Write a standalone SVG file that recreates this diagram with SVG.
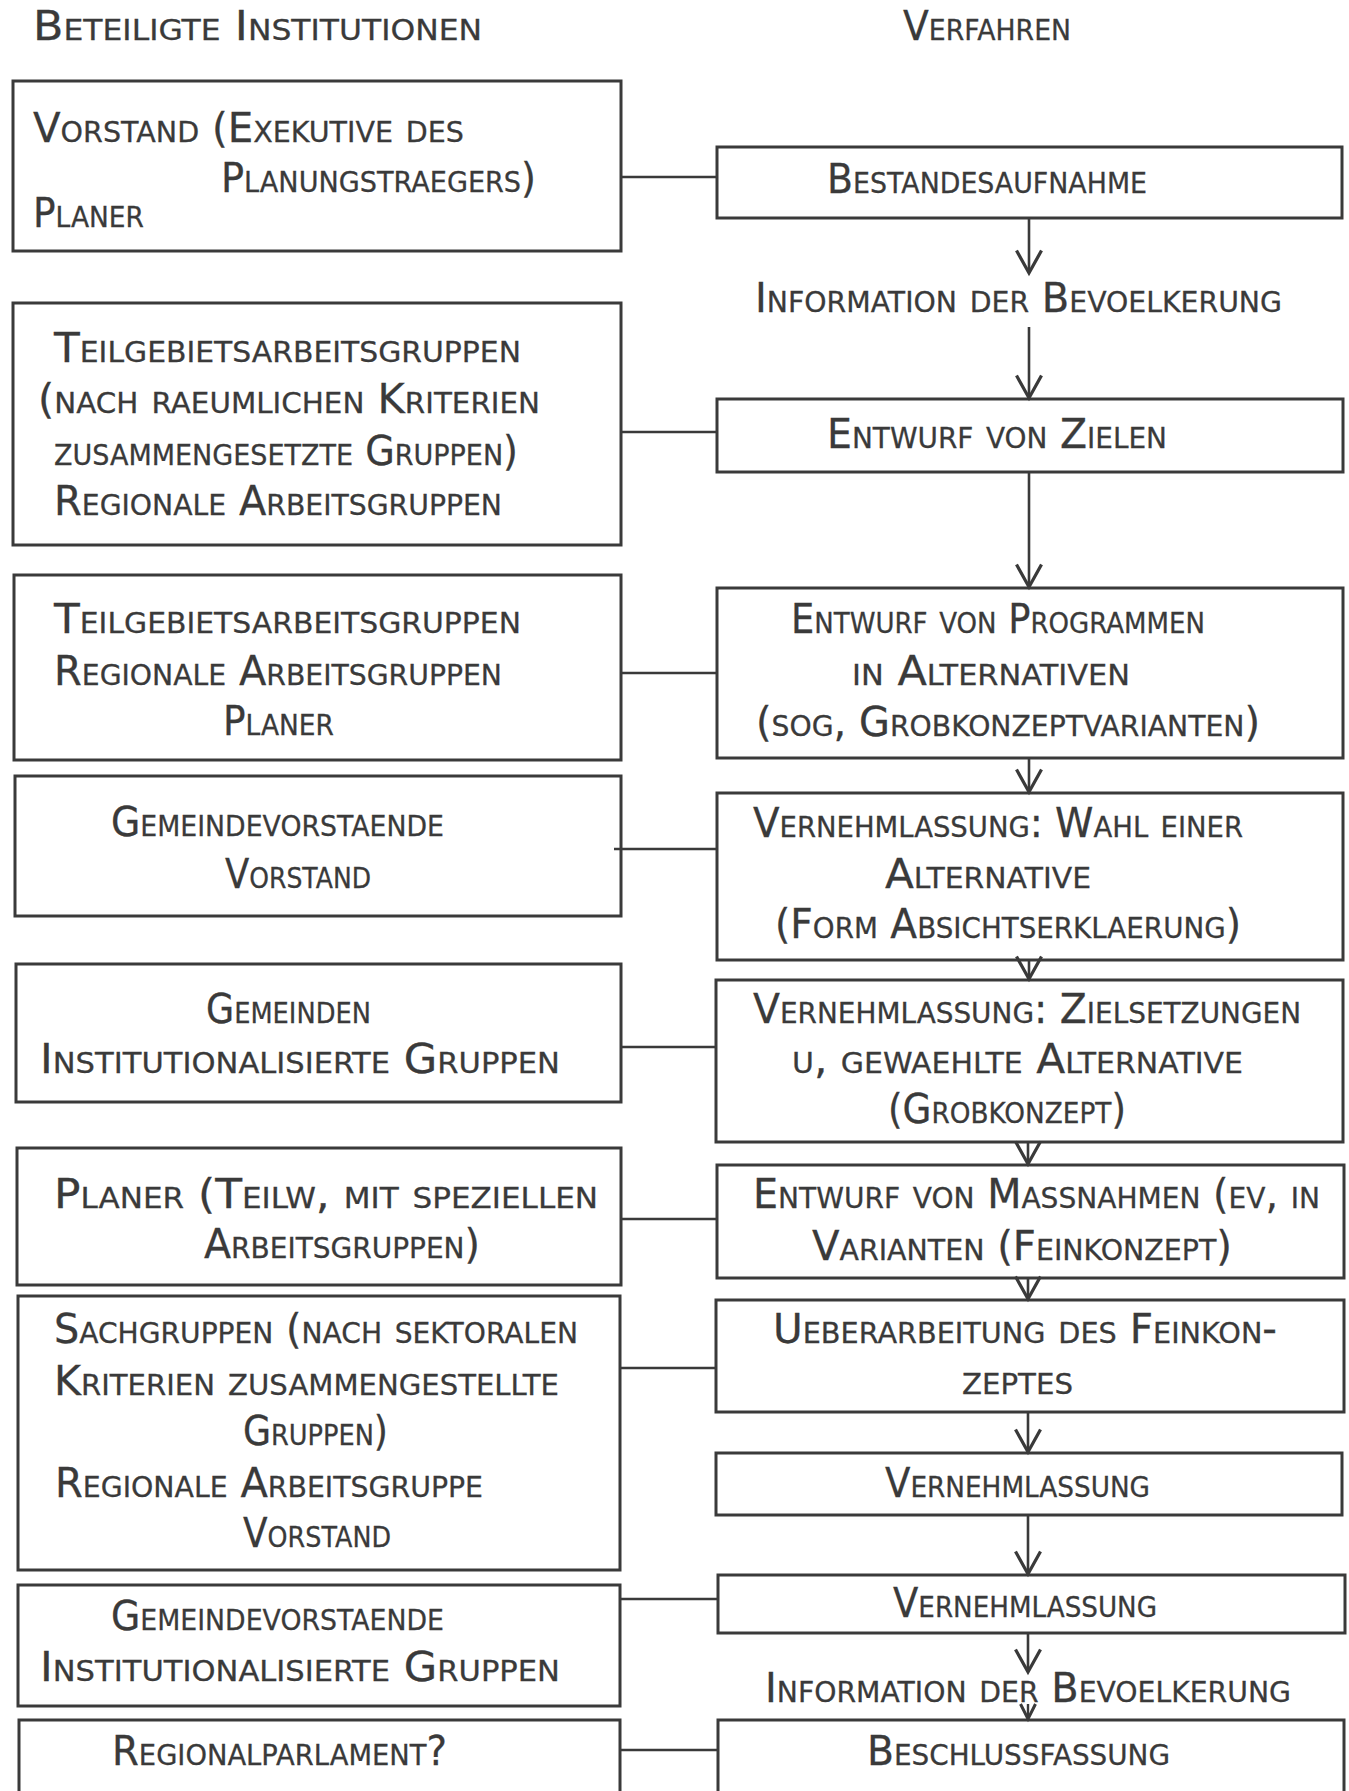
<svg xmlns="http://www.w3.org/2000/svg" width="1349" height="1791" viewBox="0 0 1349 1791">
<defs>
<style>
.t{font-family:"DejaVu Sans","Liberation Sans",sans-serif;font-size:41px;font-variant:small-caps;fill:#3a3a3a;stroke:#3a3a3a;stroke-width:0.3}
.b{fill:none;stroke:#3a3a3a;stroke-width:3}
.c{fill:none;stroke:#3a3a3a;stroke-width:2.6}
.a{fill:none;stroke:#3a3a3a;stroke-width:2.6;marker-end:url(#ah)}
</style>
<marker id="ah" markerUnits="userSpaceOnUse" markerWidth="30" markerHeight="30" viewBox="-20 -12 22 24" refX="0" refY="0" orient="auto" overflow="visible">
<path d="M-18,-10 L0,0 L-18,10" fill="none" stroke="#3a3a3a" stroke-width="2.6"/>
</marker>
<marker id="ahs" markerUnits="userSpaceOnUse" markerWidth="20" markerHeight="20" viewBox="-14 -8 16 16" refX="0" refY="0" orient="auto" overflow="visible">
<path d="M-12,-6 L0,0 L-12,6" fill="none" stroke="#3a3a3a" stroke-width="2.4"/>
</marker>
</defs>
<rect width="1349" height="1791" fill="#ffffff"/>

<g id="headings">
<text class="t" x="33" y="40" textLength="449" lengthAdjust="spacingAndGlyphs">Beteiligte Institutionen</text>
<text class="t" x="903" y="40" textLength="168" lengthAdjust="spacingAndGlyphs">Verfahren</text>
</g>

<g id="connectors">
<line class="c" x1="621" y1="177" x2="717" y2="177"/>
<line class="c" x1="621" y1="432" x2="717" y2="432"/>
<line class="c" x1="621" y1="673" x2="717" y2="673"/>
<line class="c" x1="614" y1="849" x2="717" y2="849"/>
<line class="c" x1="621" y1="1047" x2="717" y2="1047"/>
<line class="c" x1="621" y1="1219" x2="717" y2="1219"/>
<line class="c" x1="621" y1="1368" x2="717" y2="1368"/>
<line class="c" x1="621" y1="1599" x2="717" y2="1599"/>
<line class="c" x1="621" y1="1750" x2="717" y2="1750"/>
<line class="a" x1="1029" y1="218" x2="1029" y2="273"/>
<line class="a" x1="1029" y1="327" x2="1029" y2="398"/>
<line class="a" x1="1029" y1="472" x2="1029" y2="587"/>
<line class="a" x1="1029" y1="758" x2="1029" y2="792"/>
<line class="a" x1="1029" y1="960" x2="1029" y2="979"/>
<line class="a" x1="1028" y1="1142" x2="1028" y2="1164"/>
<line class="a" x1="1028" y1="1278" x2="1028" y2="1299"/>
<line class="a" x1="1028" y1="1412" x2="1028" y2="1452"/>
<line class="a" x1="1028" y1="1515" x2="1028" y2="1574"/>
<line class="a" x1="1028" y1="1633" x2="1028" y2="1672"/>
<line x1="1028" y1="1704" x2="1028" y2="1719" stroke="#3a3a3a" stroke-width="2.4" marker-end="url(#ahs)"/>
</g>

<g id="L1">
<rect class="b" x="13" y="81" width="608" height="170"/>
<text class="t" x="33" y="142" textLength="431" lengthAdjust="spacingAndGlyphs">Vorstand (Exekutive des</text>
<text class="t" x="221" y="192" textLength="315" lengthAdjust="spacingAndGlyphs">Planungstraegers)</text>
<text class="t" x="33" y="227" textLength="111" lengthAdjust="spacingAndGlyphs">Planer</text>
</g>
<g id="L2">
<rect class="b" x="13" y="303" width="608" height="242"/>
<text class="t" x="54" y="362" textLength="467" lengthAdjust="spacingAndGlyphs">Teilgebietsarbeitsgruppen</text>
<text class="t" x="38" y="413" textLength="502" lengthAdjust="spacingAndGlyphs">(nach raeumlichen Kriterien</text>
<text class="t" x="54" y="465" textLength="464" lengthAdjust="spacingAndGlyphs">zusammengesetzte Gruppen)</text>
<text class="t" x="54" y="515" textLength="448" lengthAdjust="spacingAndGlyphs">Regionale Arbeitsgruppen</text>
</g>
<g id="L3">
<rect class="b" x="14" y="575" width="607" height="185"/>
<text class="t" x="54" y="633" textLength="467" lengthAdjust="spacingAndGlyphs">Teilgebietsarbeitsgruppen</text>
<text class="t" x="54" y="685" textLength="448" lengthAdjust="spacingAndGlyphs">Regionale Arbeitsgruppen</text>
<text class="t" x="223" y="735" textLength="111" lengthAdjust="spacingAndGlyphs">Planer</text>
</g>
<g id="L4">
<rect class="b" x="15" y="776" width="606" height="140"/>
<text class="t" x="111" y="836" textLength="333" lengthAdjust="spacingAndGlyphs">Gemeindevorstaende</text>
<text class="t" x="225" y="888" textLength="146" lengthAdjust="spacingAndGlyphs">Vorstand</text>
</g>
<g id="L5">
<rect class="b" x="16" y="964" width="605" height="138"/>
<text class="t" x="206" y="1023" textLength="165" lengthAdjust="spacingAndGlyphs">Gemeinden</text>
<text class="t" x="40" y="1073" textLength="520" lengthAdjust="spacingAndGlyphs">Institutionalisierte Gruppen</text>
</g>
<g id="L6">
<rect class="b" x="17" y="1148" width="604" height="137"/>
<text class="t" x="54" y="1208" textLength="544" lengthAdjust="spacingAndGlyphs">Planer (Teilw, mit speziellen</text>
<text class="t" x="204" y="1258" textLength="276" lengthAdjust="spacingAndGlyphs">Arbeitsgruppen)</text>
</g>
<g id="L7">
<rect class="b" x="18" y="1296" width="602" height="274"/>
<text class="t" x="54" y="1343" textLength="524" lengthAdjust="spacingAndGlyphs">Sachgruppen (nach sektoralen</text>
<text class="t" x="54" y="1395" textLength="505" lengthAdjust="spacingAndGlyphs">Kriterien zusammengestellte</text>
<text class="t" x="243" y="1445" textLength="145" lengthAdjust="spacingAndGlyphs">Gruppen)</text>
<text class="t" x="55" y="1497" textLength="428" lengthAdjust="spacingAndGlyphs">Regionale Arbeitsgruppe</text>
<text class="t" x="243" y="1547" textLength="148" lengthAdjust="spacingAndGlyphs">Vorstand</text>
</g>
<g id="L8">
<rect class="b" x="18" y="1585" width="602" height="121"/>
<text class="t" x="111" y="1630" textLength="333" lengthAdjust="spacingAndGlyphs">Gemeindevorstaende</text>
<text class="t" x="40" y="1681" textLength="520" lengthAdjust="spacingAndGlyphs">Institutionalisierte Gruppen</text>
</g>
<g id="L9">
<rect class="b" x="19" y="1720" width="601" height="90"/>
<text class="t" x="112" y="1765" textLength="335" lengthAdjust="spacingAndGlyphs">Regionalparlament?</text>
</g>

<g id="R1">
<rect class="b" x="717" y="147" width="625" height="71"/>
<text class="t" x="827" y="193" textLength="320" lengthAdjust="spacingAndGlyphs">Bestandesaufnahme</text>
</g>
<g id="I1">
<text class="t" x="755" y="312" textLength="527" lengthAdjust="spacingAndGlyphs">Information der Bevoelkerung</text>
</g>
<g id="R2">
<rect class="b" x="717" y="399" width="626" height="73"/>
<text class="t" x="827" y="448" textLength="340" lengthAdjust="spacingAndGlyphs">Entwurf von Zielen</text>
</g>
<g id="R3">
<rect class="b" x="717" y="588" width="626" height="170"/>
<text class="t" x="791" y="633" textLength="414" lengthAdjust="spacingAndGlyphs">Entwurf von Programmen</text>
<text class="t" x="852" y="685" textLength="278" lengthAdjust="spacingAndGlyphs">in Alternativen</text>
<text class="t" x="756" y="736" textLength="504" lengthAdjust="spacingAndGlyphs">(sog, Grobkonzeptvarianten)</text>
</g>
<g id="R4">
<rect class="b" x="717" y="793" width="626" height="167"/>
<text class="t" x="753" y="837" textLength="490" lengthAdjust="spacingAndGlyphs">Vernehmlassung: Wahl einer</text>
<text class="t" x="885" y="888" textLength="206" lengthAdjust="spacingAndGlyphs">Alternative</text>
<text class="t" x="775" y="938" textLength="466" lengthAdjust="spacingAndGlyphs">(Form Absichtserklaerung)</text>
</g>
<g id="R5">
<rect class="b" x="716" y="980" width="627" height="162"/>
<text class="t" x="753" y="1023" textLength="548" lengthAdjust="spacingAndGlyphs">Vernehmlassung: Zielsetzungen</text>
<text class="t" x="792" y="1073" textLength="451" lengthAdjust="spacingAndGlyphs">u, gewaehlte Alternative</text>
<text class="t" x="888" y="1123" textLength="238" lengthAdjust="spacingAndGlyphs">(Grobkonzept)</text>
</g>
<g id="R6">
<rect class="b" x="717" y="1165" width="627" height="113"/>
<text class="t" x="753" y="1208" textLength="567" lengthAdjust="spacingAndGlyphs">Entwurf von Massnahmen (ev, in</text>
<text class="t" x="812" y="1260" textLength="420" lengthAdjust="spacingAndGlyphs">Varianten (Feinkonzept)</text>
</g>
<g id="R7">
<rect class="b" x="716" y="1300" width="628" height="112"/>
<text class="t" x="773" y="1343" textLength="504" lengthAdjust="spacingAndGlyphs">Ueberarbeitung des Feinkon-</text>
<text class="t" x="962" y="1394" textLength="111" lengthAdjust="spacingAndGlyphs">zeptes</text>
</g>
<g id="R8">
<rect class="b" x="716" y="1453" width="626" height="62"/>
<text class="t" x="885" y="1497" textLength="265" lengthAdjust="spacingAndGlyphs">Vernehmlassung</text>
</g>
<g id="R9">
<rect class="b" x="718" y="1575" width="627" height="58"/>
<text class="t" x="893" y="1617" textLength="264" lengthAdjust="spacingAndGlyphs">Vernehmlassung</text>
</g>
<g id="I2">
<text class="t" x="765" y="1702" textLength="526" lengthAdjust="spacingAndGlyphs">Information der Bevoelkerung</text>
</g>
<g id="R10">
<rect class="b" x="718" y="1720" width="626" height="90"/>
<text class="t" x="867" y="1765" textLength="303" lengthAdjust="spacingAndGlyphs">Beschlussfassung</text>
</g>
</svg>
